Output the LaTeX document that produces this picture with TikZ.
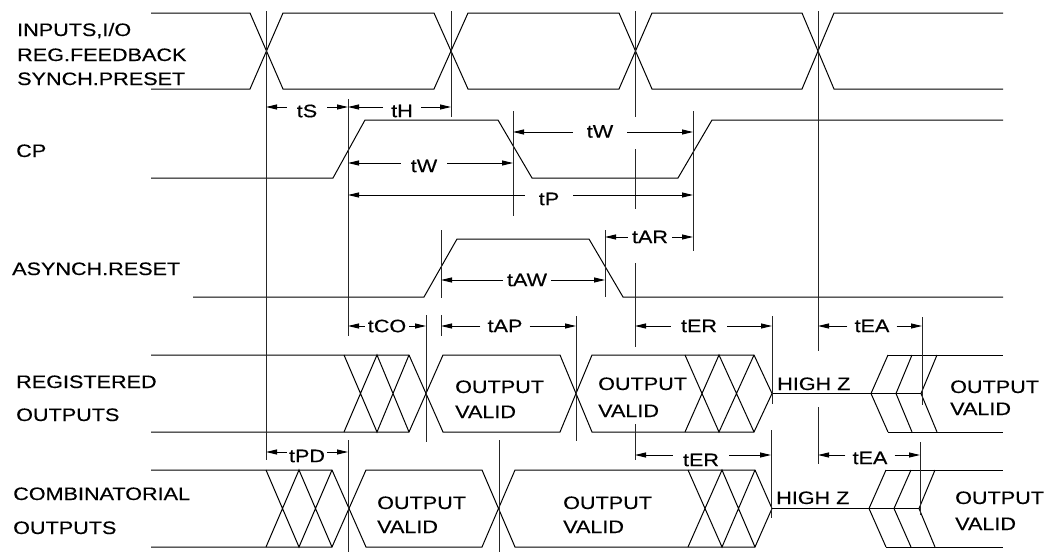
\documentclass[tikz,border=0pt]{standalone}
\usepackage{fontspec}
\setmainfont{Liberation Sans}[FakeStretch=1.2,BoldFont={Liberation Sans},BoldFeatures={FakeBold=0.35,FakeStretch=1.2}]
\usetikzlibrary{arrows.meta}
\newcommand\dimline[8]{%
  \node[tlabel, inner xsep=#8] (#1) at (#2,#3) {#7};
  \coordinate (#1-l) at (#4,#6);
  \coordinate (#1-r) at (#5,#6);
  \draw[dimarrow] (#1.west |- #1-l) -- (#1-l);
  \draw[dimarrow] (#1.east |- #1-r) -- (#1-r);
}
\begin{document}
\begin{tikzpicture}[x=1pt,y=-1pt,
  wave/.style={line width=1pt, line join=miter},
  tick/.style={line width=1pt, black!85},
  dimarrow/.style={line width=0.9pt, -{Triangle[length=11pt,width=5pt]}},
  tlabel/.style={font=\fontsize{18}{20}\selectfont\bfseries, inner ysep=0pt},
  sig/.style={font=\fontsize{18}{20}\selectfont\bfseries, anchor=base west, inner sep=0pt},
]
\useasboundingbox[fill=white] (0,0) rectangle (1047,552);

% ---------- signal names ----------
\node[sig] (lin1) at (17,36) {INPUTS,I/O};
\node[sig] (lin2) at (17,61) {REG.FEEDBACK};
\node[sig] (lin3) at (17,85) {SYNCH.PRESET};
\node[sig] (lcp) at (16,157) {CP};
\node[sig] (lar) at (12,275) {ASYNCH.RESET};
\node[sig] (lreg1) at (16,388) {REGISTERED};
\node[sig] (lreg2) at (16,421) {OUTPUTS};
\node[sig] (lcomb1) at (13,500) {COMBINATORIAL};
\node[sig] (lcomb2) at (13,534) {OUTPUTS};

% ---------- inputs ----------
\draw[wave] (151,13)--(250,13)--(283,89)--(434,89)--(468,13)--(619,13)--(652,89)--(802,89)--(834,13)--(1003,13);
\draw[wave] (151,89)--(250,89)--(283,13)--(434,13)--(468,89)--(619,89)--(652,13)--(802,13)--(834,89)--(1003,89);
% ---------- CP ----------
\draw[wave] (151,178)--(333,178)--(365,120)--(498,120)--(532,178)--(678,178)--(712,120)--(1003,120);
% ---------- asynch reset ----------
\draw[wave] (193,297)--(424,297)--(457,239)--(589,239)--(623,297)--(1003,297);

% ---------- registered outputs ----------
\draw[wave] (151,355)--(409,355)--(443,432)--(560,432)--(592,355)--(754,355)--(772,393.5);
\draw[wave] (151,432)--(409,432)--(443,355)--(560,355)--(592,432)--(754,432)--(772,393.5);
\draw[wave] (344,355)--(377,432)--(409,355) (344,432)--(377,355)--(409,432);
\draw[wave] (685,355)--(719,432)--(754,355) (685,432)--(719,355)--(754,432);
\draw[wave] (772,393.5)--(921,393.5);
\draw[wave] (888,355)--(871,393.5)--(888,432) (912,355)--(896,393.5)--(912,432) (937,355)--(921,393.5)--(937,432);
\draw[wave] (888,355)--(1003,355) (888,432)--(1003,432);
\node[sig] (rv1a) at (455,393) {OUTPUT};
\node[sig] (rv1b) at (455,418) {VALID};
\node[sig] (rv2a) at (598,390) {OUTPUT};
\node[sig] (rv2b) at (598,417) {VALID};
\node[sig] (rv3a) at (950,393) {OUTPUT};
\node[sig] (rv3b) at (950,415) {VALID};
\node[sig] (rhz) at (777,390) {HIGH Z};

% ---------- combinatorial outputs ----------
\draw[wave] (151,470)--(332,470)--(366,547)--(482,547)--(515,470)--(755,470)--(772,508.5);
\draw[wave] (151,547)--(332,547)--(366,470)--(482,470)--(515,547)--(755,547)--(772,508.5);
\draw[wave] (266,470)--(299,547)--(332,470) (266,547)--(299,470)--(332,547);
\draw[wave] (688,470)--(722,547)--(755,470) (688,547)--(722,470)--(755,547);
\draw[wave] (772,508.5)--(919,508.5);
\draw[wave] (886,470)--(869,508.5)--(886,547) (911,470)--(894,508.5)--(911,547) (935,470)--(919,508.5)--(935,547);
\draw[wave] (886,470)--(1003,470) (886,547)--(1003,547);
\node[sig] (cv1a) at (377,509) {OUTPUT};
\node[sig] (cv1b) at (377,533) {VALID};
\node[sig] (cv2a) at (563,509) {OUTPUT};
\node[sig] (cv2b) at (563,533) {VALID};
\node[sig] (cv3a) at (955,504) {OUTPUT};
\node[sig] (cv3b) at (955,530) {VALID};
\node[sig] (chz) at (776,504) {HIGH Z};

% ---------- reference verticals ----------
\draw[tick] (266,11)--(266,460);
\draw[tick] (348,99)--(348,336) (348,440)--(348,552);
\draw[tick] (451,11)--(451,117);
\draw[tick] (513,111)--(513,216);
\draw[tick] (635,11)--(635,117) (635,149)--(635,209) (635,263)--(635,347) (635,424)--(635,460);
\draw[tick] (693,111)--(693,251);
\draw[tick] (818,11)--(818,351) (818,407)--(818,464);
\draw[tick] (441,230)--(441,298) (441,315)--(441,336);
\draw[tick] (605,230)--(605,297);
\draw[tick] (426,315)--(426,442);
\draw[tick] (576,316)--(576,441);
\draw[tick] (499,440)--(499,552);
\draw[tick] (772,316)--(772,404);
\draw[tick] (771,430)--(771,518);
\draw[tick] (922,317)--(922,405);
\draw[tick] (920,442)--(920,515);

% ---------- timing dimensions ----------
\dimline{tS}{307}{111}{266}{348}{107}{tS}{10pt}
\dimline{tH}{402}{111}{348}{451}{107}{tH}{8pt}
\dimline{tWa}{424}{166}{348}{513}{163}{tW}{10pt}
\dimline{tP}{549}{199}{348}{693}{195}{tP}{14pt}
\dimline{tWb}{600}{131.5}{513}{693}{132}{tW}{14pt}
\dimline{tAR}{650}{237}{605}{693}{237}{tAR}{4pt}
\dimline{tAW}{527}{280}{441}{605}{280}{tAW}{4pt}
\dimline{tCO}{387}{326}{348}{426}{326}{tCO}{3pt}
\dimline{tAP}{505}{326}{441}{576}{326}{tAP}{7pt}
\dimline{tERa}{699}{326}{635}{772}{326}{tER}{10pt}
\dimline{tEAa}{872}{326}{818}{922}{326}{tEA}{7pt}
\dimline{tPD}{307}{456}{266}{348}{452}{tPD}{2pt}
\dimline{tERb}{701}{460}{635}{771}{455}{tER}{10pt}
\dimline{tEAb}{870}{458}{818}{920}{455}{tEA}{7pt}
\end{tikzpicture}
\end{document}
